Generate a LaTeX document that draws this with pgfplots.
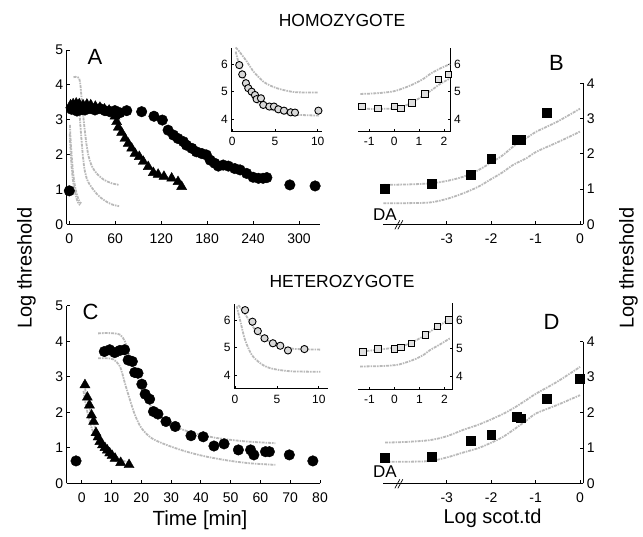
\documentclass[border=0pt]{standalone}
\usepackage{fontspec}
\setmainfont{Liberation Sans}
\usepackage{pgfplots}
\pgfplotsset{compat=1.18}

\pgfplotsset{
 panel/.style={scale only axis, anchor=south west, clip=false,
   axis line style={line width=0.8pt},
   every tick/.style={black,line width=0.8pt},
   tick align=inside, major tick length=3pt,
   /pgf/number format/assume math mode=true},
 mainax/.style={panel, ticklabel style={font=\fontsize{14}{14}\selectfont},
   xticklabel style={yshift=-6pt}},
 insetax/.style={panel, ticklabel style={font=\fontsize{12}{12}\selectfont},
   xticklabel style={yshift=-3pt}, major tick length=2.5pt},
 fit/.style={gray!55, line width=1.8pt, dash pattern=on 3pt off 1pt on 1.5pt off 1pt, no markers, smooth},
 dot/.style={only marks, mark=*, mark size=5.3pt, black},
 tri/.style={only marks, mark=triangle*, mark size=5.8pt, black},
 sq/.style={only marks, mark=square*, mark size=4.4pt, black},
 ocirc/.style={only marks, mark=*, mark size=3.6pt, mark options={draw=black, fill=gray!30, line width=0.9pt}},
 osq/.style={only marks, mark=square*, mark size=3.2pt, mark options={draw=black, fill=gray!25, line width=0.9pt}},
}

\begin{document}
\begin{tikzpicture}
\useasboundingbox (0pt,0pt) rectangle (643pt,-536pt);

% ---------------- Panel A ----------------
\begin{axis}[mainax, at={(66.7pt,-224.3pt)}, width=253.3pt, height=174.3pt,
  axis x line*=bottom, axis y line*=left,
  xmin=-3.4, xmax=327.4, ymin=0, ymax=5,
  xtick={0,60,120,180,240,300}, ytick={0,1,2,3,4,5}]
\addplot[fit] coordinates {(5.5,4.22) (8,4.23) (11,4.22) (13,4.18) (14.5,4.0) (15.5,3.75) (17.3,3.3) (19.6,2.82) (22.4,2.3) (25.2,1.95) (28.5,1.72) (32,1.57) (37,1.43) (45,1.28) (55,1.18) (65,1.13)};
\addplot[fit] coordinates {(5.5,3.52) (8,3.52) (10.6,3.49) (12.9,3.28) (14.5,2.82) (16.2,2.35) (17.9,1.92) (20.1,1.55) (23.5,1.27) (28.5,1.08) (35.2,0.89) (41.9,0.75) (50,0.63) (57,0.56) (65,0.52)};
\addplot[fit] coordinates {(0.8,2.85) (1.5,2.5) (2.5,2.15) (3.5,1.85) (4.5,1.58) (5.5,1.38) (7,1.15) (8.5,0.98) (10,0.85) (12,0.72) (14,0.63) (15.5,0.6)};
\addplot[fit] coordinates {(0.6,2.6) (1.3,2.25) (2.2,1.9) (3.2,1.6) (4.3,1.35) (5.5,1.15) (7,0.97) (8.5,0.82) (10,0.7) (12,0.6) (14,0.55)};
\addplot[tri] coordinates {(1.7,3.42) (5,3.45) (9,3.47) (13,3.45) (18,3.42) (23,3.44) (28,3.42) (34,3.38) (40,3.35) (46,3.3) (52,3.27) (57,3.2) (59.6,3.10) (61.8,2.94) (64,2.78) (68.3,2.63) (72.7,2.46) (77,2.32) (81.4,2.18) (85.8,2.03) (91.4,1.94) (96.6,1.80) (103,1.65) (109.7,1.48) (116,1.43) (123.6,1.37) (133.7,1.32) (142,1.22) (146.7,1.08)};
\addplot[dot] coordinates {(0,0.96) (3,3.3) (7.4,3.37) (10,3.25) (13.9,3.28) (17,3.3) (20.5,3.28) (24,3.35) (27,3.32) (33.5,3.28) (40,3.32) (46.6,3.26) (53,3.23) (59.6,3.26) (66,3.2) (75,3.26) (94.5,3.23) (110.6,3.10) (121.5,2.99) (129,2.70) (136,2.56) (142,2.46) (149,2.37) (153,2.27) (160,2.18) (166,2.08) (173,2.03) (179,1.99) (184,1.84) (190,1.75) (194.6,1.67) (201,1.70) (207.7,1.67) (216,1.60) (223,1.56) (231.6,1.46) (240,1.35) (247,1.32) (253,1.32) (258,1.34) (288,1.13) (321,1.10)};
\end{axis}

% inset A
\begin{axis}[insetax, at={(231.4pt,-131pt)}, width=90.6pt, height=82.7pt,
  axis x line*=bottom, axis y line*=left,
  xmin=-0.1, xmax=10.5, ymin=3.56, ymax=6.57,
  xtick={0,5,10}, ytick={4,5,6}]
\addplot[fit] coordinates {(0.4,6.6) (0.7,6.5) (1.2,6.3) (1.68,6.1) (2.2,5.85) (2.66,5.66) (3.63,5.36) (4.4,5.22) (5.2,5.12) (6.3,5.03) (7.54,4.97) (10.1,4.96)};
\addplot[fit] coordinates {(0.4,6.45) (0.7,6.1) (1.1,5.78) (1.68,5.2) (2.46,4.75) (3.0,4.58) (3.63,4.45) (5.2,4.27) (6.3,4.19) (7.54,4.15) (10.1,4.12)};
\addplot[ocirc] coordinates {(0.82,5.96) (1.17,5.62) (1.6,5.30) (1.87,5.12) (2.27,4.99) (2.66,4.87) (2.85,4.72) (3.36,4.75) (3.63,4.51) (4.34,4.45) (4.88,4.45) (5.39,4.35) (6.05,4.30) (6.84,4.24) (7.34,4.23) (10.08,4.30)};
\end{axis}

% ---------------- Panel B ----------------
\begin{axis}[mainax, at={(383.3pt,-224.3pt)}, width=200pt, height=141pt,
  axis x line*=bottom, axis y line*=right,
  xmin=-4.43, xmax=0.074, ymin=0, ymax=4,
  xtick={-3,-2,-1,0}, ytick={0,1,2,3,4}]
\addplot[fit] coordinates {(-4.43,1.12) (-3.9,1.13) (-3.38,1.16) (-3.0,1.23) (-2.63,1.35) (-2.3,1.53) (-2.03,1.73) (-1.75,1.95) (-1.5,2.21) (-1.2,2.45) (-0.98,2.63) (-0.5,2.92) (0,3.28)};
\addplot[fit] coordinates {(-4.43,0.6) (-3.9,0.6) (-3.38,0.62) (-3.0,0.72) (-2.63,0.88) (-2.3,1.06) (-2.03,1.26) (-1.75,1.47) (-1.5,1.69) (-1.2,1.88) (-0.98,2.06) (-0.5,2.33) (0,2.63)};
\addplot[sq] coordinates {(-4.39,1.02) (-3.34,1.16) (-2.46,1.40) (-2.0,1.85) (-1.43,2.40) (-1.34,2.40) (-0.75,3.17)};
\draw[line width=0.7pt] ([xshift=-4pt,yshift=-5pt]axis cs:-4.08,0) -- ([xshift=1pt,yshift=4pt]axis cs:-4.08,0);
\draw[line width=0.7pt] ([xshift=-1pt,yshift=-5pt]axis cs:-4.08,0) -- ([xshift=4pt,yshift=4pt]axis cs:-4.08,0);
\end{axis}

% inset B
\begin{axis}[insetax, at={(358.3pt,-131pt)}, width=92.4pt, height=82.7pt,
  axis x line*=bottom, axis y line*=right,
  xmin=-1.44, xmax=2.27, ymin=3.58, ymax=6.57,
  xtick={-1,0,1,2}, ytick={4,5,6}]
\addplot[fit] coordinates {(-1.36,4.92) (-1,4.93) (-0.5,4.96) (0,5.02) (0.5,5.17) (0.9,5.33) (1.2,5.48) (1.44,5.64) (1.8,5.82) (2.24,6.0)};
\addplot[fit] coordinates {(-1.36,4.40) (-1,4.38) (-0.5,4.38) (0,4.40) (0.4,4.48) (0.64,4.58) (1.0,4.76) (1.31,4.94) (1.6,5.12) (1.84,5.28) (2.24,5.48)};
\addplot[osq] coordinates {(-1.29,4.46) (-0.65,4.40) (0.01,4.46) (0.28,4.40) (0.71,4.60) (1.24,4.92) (1.77,5.45) (2.17,5.63)};
\end{axis}

% ---------------- Panel C ----------------
\begin{axis}[mainax, at={(66.7pt,-483.3pt)}, width=253.3pt, height=177.6pt,
  axis x line*=bottom, axis y line*=left,
  xmin=-5.03, xmax=80, ymin=0, ymax=5,
  xtick={0,10,20,30,40,50,60,70,80}, ytick={0,1,2,3,4,5}]
\addplot[fit] coordinates {(5.5,4.22) (8,4.23) (11,4.22) (13,4.18) (14.5,4.0) (15.5,3.75) (17.3,3.3) (19.6,2.82) (22.4,2.3) (25.2,1.95) (28.5,1.72) (32,1.57) (37,1.43) (45,1.28) (55,1.18) (65,1.13)};
\addplot[fit] coordinates {(5.5,3.52) (8,3.52) (10.6,3.49) (12.9,3.28) (14.5,2.82) (16.2,2.35) (17.9,1.92) (20.1,1.55) (23.5,1.27) (28.5,1.08) (35.2,0.89) (41.9,0.75) (50,0.63) (57,0.56) (65,0.52)};
\addplot[fit] coordinates {(0.8,2.85) (1.5,2.5) (2.5,2.15) (3.5,1.85) (4.5,1.58) (5.5,1.38) (7,1.15) (8.5,0.98) (10,0.85) (12,0.72) (14,0.63) (15.5,0.6)};
\addplot[fit] coordinates {(0.6,2.6) (1.3,2.25) (2.2,1.9) (3.2,1.6) (4.3,1.35) (5.5,1.15) (7,0.97) (8.5,0.82) (10,0.7) (12,0.6) (14,0.55)};
\addplot[tri] coordinates {(1.1,2.77) (1.9,2.42) (2.6,2.2) (3.3,1.92) (4.0,1.74) (4.8,1.42) (5.5,1.3) (6.1,1.17) (7,1.08) (7.8,1.0) (8.6,0.93) (9.4,0.85) (10.2,0.78) (11.2,0.7) (13.1,0.58) (15.9,0.52)};
\addplot[dot] coordinates {(-1.9,0.63) (7.6,3.71) (9.4,3.76) (11.1,3.68) (12.8,3.74) (14.4,3.76) (15.6,3.47) (17,3.43) (17.8,3.12) (18.9,3.10) (20.2,2.79) (21.3,2.51) (22.8,2.37) (24.1,2.02) (25.6,1.95) (28.3,1.74) (31.4,1.60) (36.7,1.34) (40.8,1.31) (44.4,1.05) (47.8,1.11) (52.6,0.94) (56.7,0.94) (57.8,0.80) (61.7,0.89) (63,0.89) (69.7,0.80) (77.6,0.63)};
\end{axis}

% inset C
\begin{axis}[insetax, at={(234.2pt,-388.3pt)}, width=93.8pt, height=84pt,
  axis x line*=bottom, axis y line*=left,
  xmin=-0.1, xmax=11.1, ymin=3.53, ymax=6.57,
  xtick={0,5,10}, ytick={4,5,6}]
\addplot[fit] coordinates {(0.4,6.54) (0.9,6.35) (1.4,6.12) (2.4,5.64) (3.0,5.45) (3.8,5.28) (4.6,5.13) (5.4,5.04) (7,4.96) (8.5,4.94) (10.2,4.93)};
\addplot[fit] coordinates {(0.2,6.5) (0.6,6.0) (1.2,5.28) (2.0,4.74) (3.0,4.44) (3.8,4.3) (4.6,4.23) (5.6,4.18) (7,4.14) (10.2,4.13)};
\addplot[ocirc] coordinates {(1.2,6.36) (2.08,5.94) (2.72,5.60) (3.52,5.34) (4.52,5.16) (5.4,5.07) (6.32,4.90) (8.28,4.95)};
\end{axis}

% ---------------- Panel D ----------------
\begin{axis}[mainax, at={(383.3pt,-483.3pt)}, width=200pt, height=141.6pt,
  axis x line*=bottom, axis y line*=right,
  xmin=-4.43, xmax=0.074, ymin=0, ymax=4,
  xtick={-3,-2,-1,0}, ytick={0,1,2,3,4}]
\addplot[fit] coordinates {(-4.39,1.15) (-3.9,1.17) (-3.38,1.22) (-3.0,1.33) (-2.63,1.51) (-2.3,1.65) (-2.03,1.79) (-1.75,1.95) (-1.5,2.12) (-1.2,2.36) (-0.98,2.54) (-0.5,2.88) (0,3.29)};
\addplot[fit] coordinates {(-4.39,0.61) (-3.9,0.61) (-3.38,0.63) (-3.0,0.73) (-2.63,0.87) (-2.3,0.99) (-2.03,1.13) (-1.75,1.3) (-1.5,1.51) (-1.2,1.78) (-0.98,1.98) (-0.5,2.22) (0,2.49)};
\addplot[sq] coordinates {(-4.39,0.72) (-3.34,0.75) (-2.46,1.20) (-2.0,1.38) (-1.43,1.88) (-1.34,1.84) (-0.75,2.40) (0,2.95)};
\draw[line width=0.7pt] ([xshift=-4pt,yshift=-5pt]axis cs:-4.08,0) -- ([xshift=1pt,yshift=4pt]axis cs:-4.08,0);
\draw[line width=0.7pt] ([xshift=-1pt,yshift=-5pt]axis cs:-4.08,0) -- ([xshift=4pt,yshift=4pt]axis cs:-4.08,0);
\end{axis}

% inset D
\begin{axis}[insetax, at={(358.3pt,-389pt)}, width=94.4pt, height=85.7pt,
  axis x line*=bottom, axis y line*=right,
  xmin=-1.45, xmax=2.33, ymin=3.56, ymax=6.62,
  xtick={-1,0,1,2}, ytick={4,5,6}]
\addplot[fit] coordinates {(-1.38,4.89) (-1,4.93) (-0.5,4.98) (0.09,5.05) (0.5,5.15) (0.89,5.31) (1.2,5.47) (1.42,5.61) (1.8,5.82) (2.22,6.08)};
\addplot[fit] coordinates {(-1.38,4.36) (-1,4.37) (-0.5,4.38) (0.09,4.42) (0.5,4.52) (0.89,4.65) (1.2,4.8) (1.42,4.95) (1.8,5.14) (2.22,5.37)};
\addplot[osq] coordinates {(-1.27,4.89) (-0.67,4.99) (0.0,4.99) (0.26,5.04) (0.69,5.19) (1.25,5.49) (1.73,5.79) (2.18,6.02)};
\end{axis}

% ---------------- Text ----------------
\node[font=\fontsize{17.5}{17.5}\selectfont] at (342pt,-20pt) {HOMOZYGOTE};
\node[font=\fontsize{17.5}{17.5}\selectfont] at (342pt,-281pt) {HETEROZYGOTE};
\node[font=\fontsize{22}{22}\selectfont] at (95pt,-57pt) {A};
\node[font=\fontsize{22}{22}\selectfont] at (556.5pt,-62.5pt) {B};
\node[font=\fontsize{22}{22}\selectfont] at (90.5pt,-311.5pt) {C};
\node[font=\fontsize{22}{22}\selectfont] at (551.5pt,-321.5pt) {D};
\node[font=\fontsize{17}{17}\selectfont] at (385pt,-215pt) {DA};
\node[font=\fontsize{17}{17}\selectfont] at (385pt,-471.5pt) {DA};
\node[font=\fontsize{20.5}{20.5}\selectfont] at (200pt,-520pt) {Time [min]};
\node[font=\fontsize{20}{20}\selectfont] at (492.5pt,-518pt) {Log scot.td};
\node[font=\fontsize{20}{20}\selectfont, rotate=90] at (26.5pt,-268pt) {Log threshold};
\node[font=\fontsize{20}{20}\selectfont, rotate=90] at (628.5pt,-268pt) {Log threshold};
\end{tikzpicture}
\end{document}
